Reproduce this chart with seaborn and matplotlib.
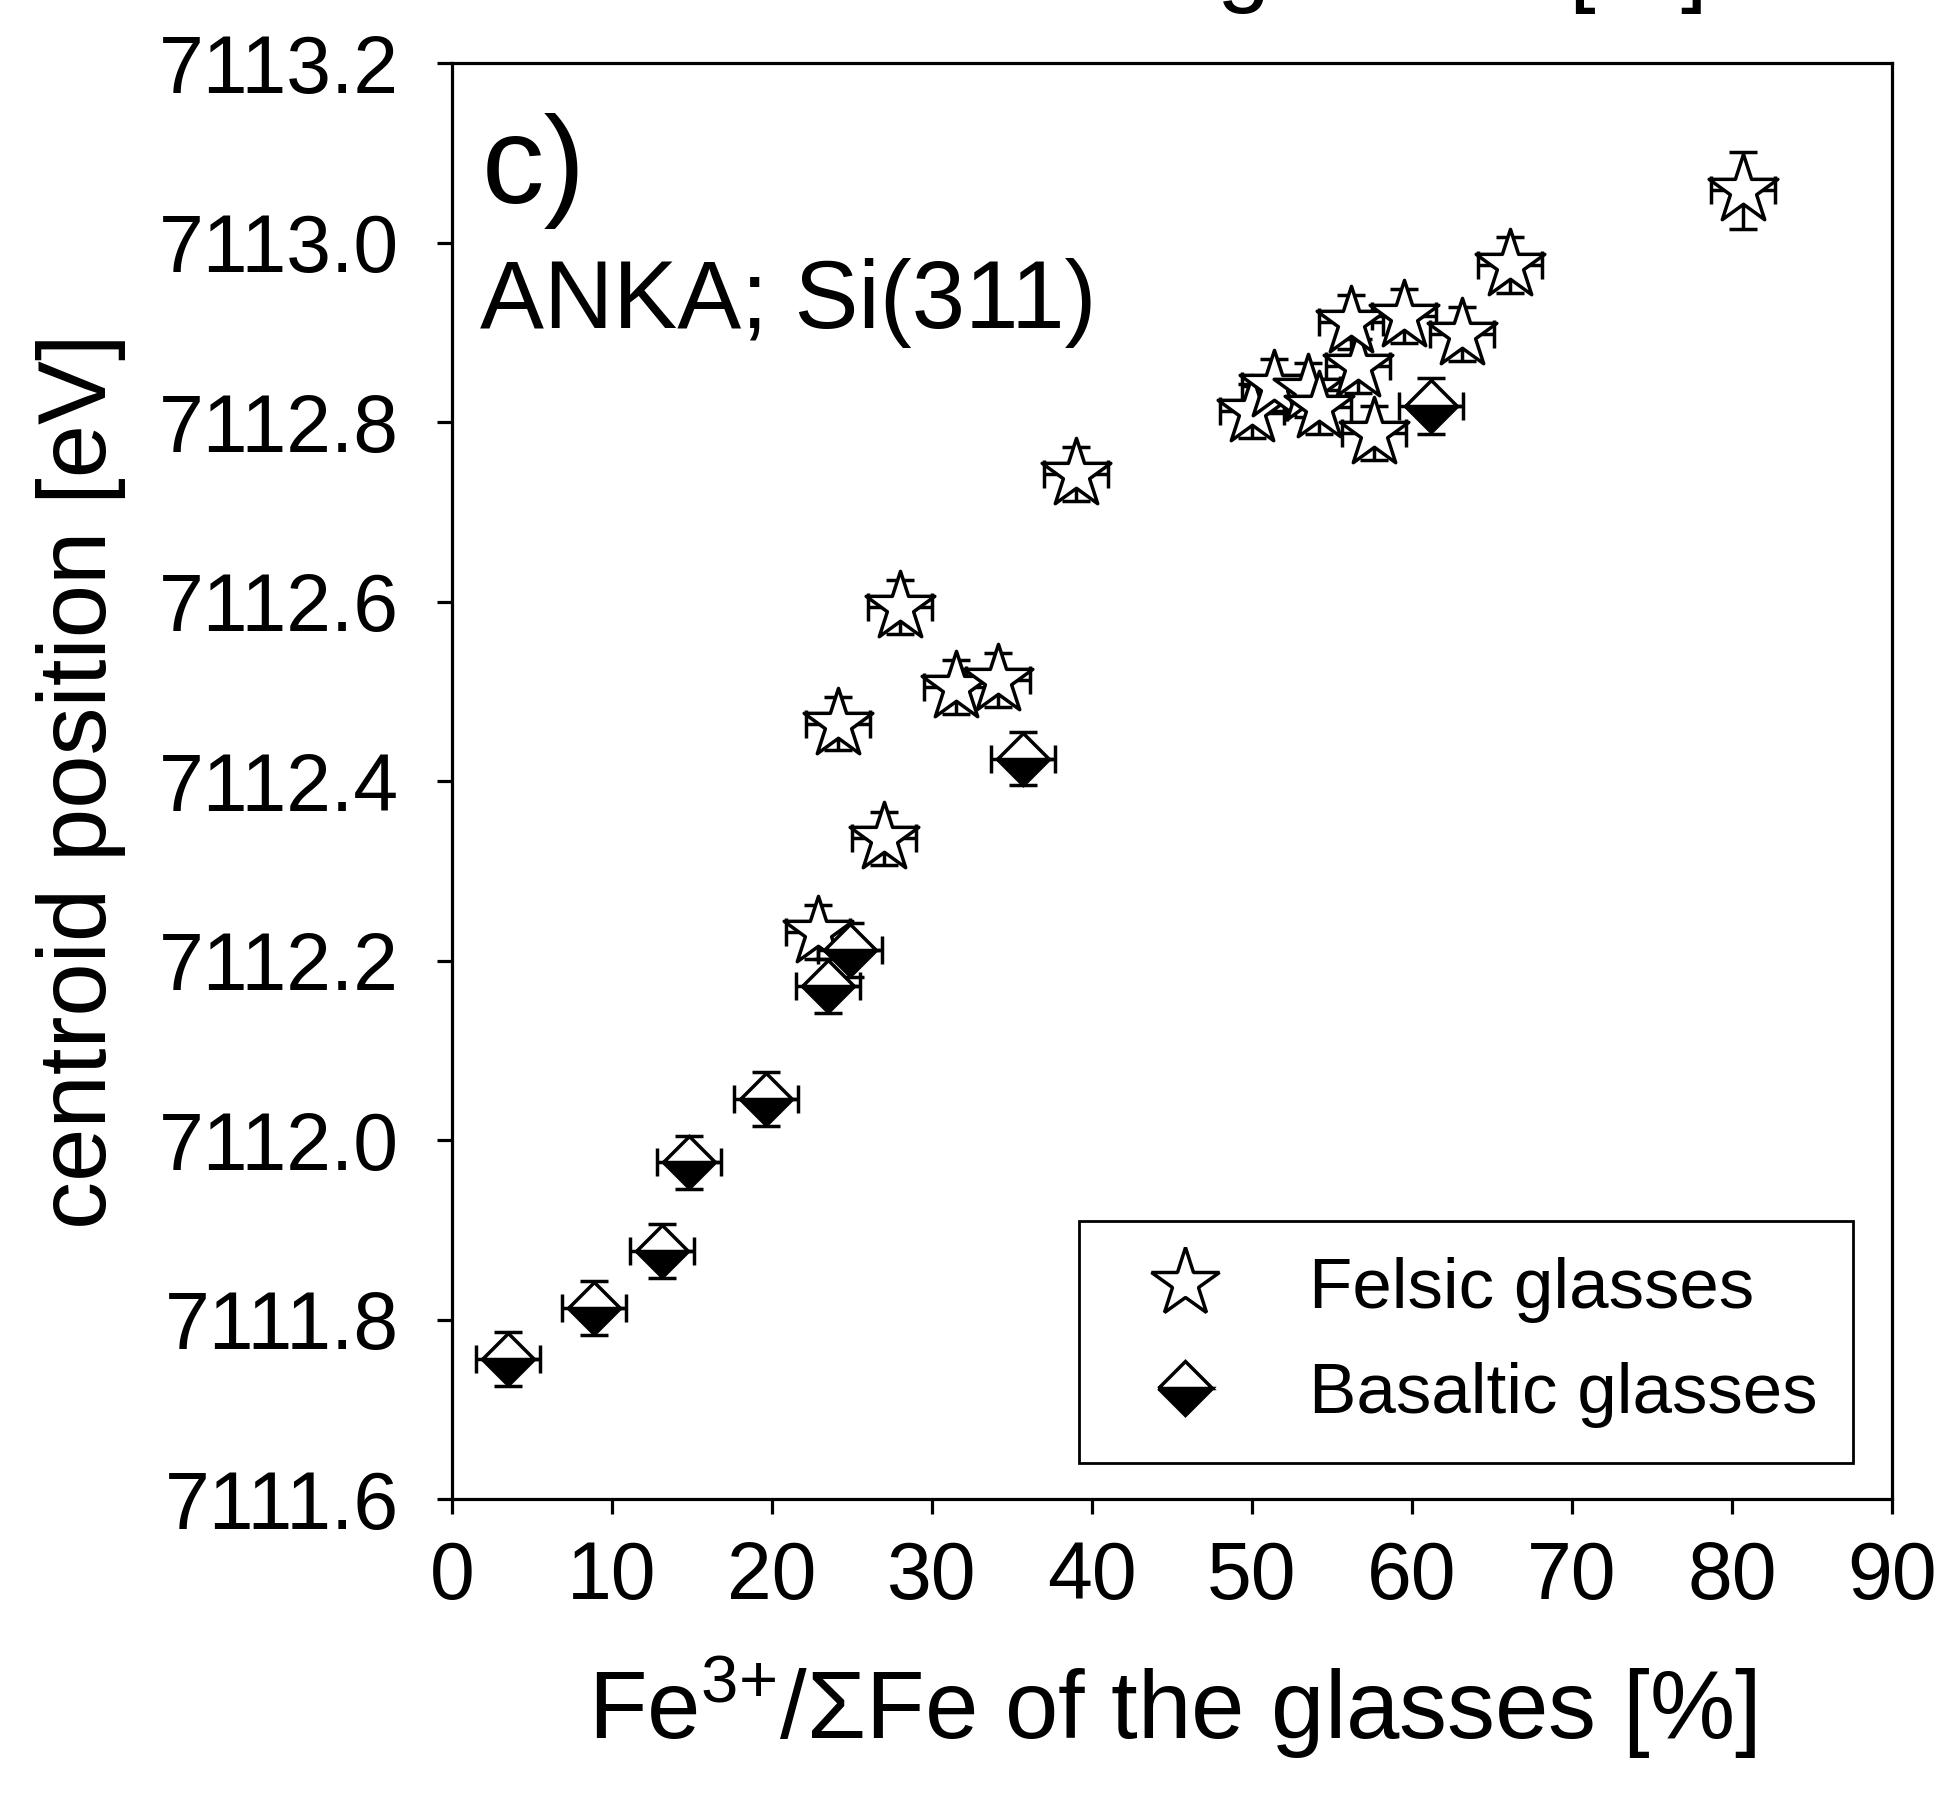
import numpy as np
import pandas as pd
import matplotlib
matplotlib.use("Agg")
import matplotlib.pyplot as plt
from matplotlib.lines import Line2D
import seaborn as sns

# ---------------- data ----------------
felsic_x = [22.9, 24.1, 27.0, 28.0, 31.5, 34.1, 39.0, 50.0, 51.4, 53.5,
            54.2, 56.6, 56.2, 57.6, 59.5, 63.1, 66.1, 80.7]
felsic_y = [7112.232, 7112.464, 7112.336, 7112.594, 7112.505, 7112.513,
            7112.742, 7112.812, 7112.840, 7112.836, 7112.817, 7112.862,
            7112.911, 7112.788, 7112.918, 7112.898, 7112.975, 7113.058]
felsic_xerr = [2.0, 2.0, 2.0, 2.0, 2.0, 2.0, 2.0, 2.0, 2.0, 2.0,
               2.0, 2.0, 2.0, 2.0, 2.0, 2.0, 2.0, 2.0]
felsic_yerr = [0.03, 0.03, 0.03, 0.03, 0.03, 0.03, 0.03, 0.03, 0.03, 0.03,
               0.03, 0.03, 0.03, 0.03, 0.03, 0.03, 0.031, 0.043]

basalt_x = [3.5, 8.9, 13.1, 14.8, 19.6, 23.5, 24.9, 35.7, 61.2]
basalt_y = [7111.756, 7111.813, 7111.876, 7111.975, 7112.046, 7112.172,
            7112.212, 7112.425, 7112.818]
basalt_xerr = [2.0, 2.0, 2.0, 2.0, 2.0, 2.0, 2.0, 2.0, 2.0]
basalt_yerr = [0.03, 0.03, 0.03, 0.03, 0.03, 0.03, 0.03, 0.03, 0.031]

x_ticks = [0, 10, 20, 30, 40, 50, 60, 70, 80, 90]
y_ticks = [7111.6, 7111.8, 7112.0, 7112.2, 7112.4, 7112.6, 7112.8, 7113.0, 7113.2]

series_labels = ["Felsic glasses", "Basaltic glasses"]
x_label = "Fe$^{3{+}}$/\u03a3Fe of the glasses [%]"
y_label = "centroid position [eV]"
panel_label = "c)"
panel_note = "ANKA; Si(311)"

felsic = pd.DataFrame({"x": felsic_x, "y": felsic_y})
basalt = pd.DataFrame({"x": basalt_x, "y": basalt_y})

# ---------------- style ----------------
sns.set_style("ticks")
plt.rcParams["font.family"] = ["Liberation Sans", "DejaVu Sans"]
plt.rcParams["text.color"] = "black"
plt.rcParams["mathtext.default"] = "regular"
plt.rcParams["mathtext.fontset"] = "custom"
plt.rcParams["mathtext.rm"] = "Liberation Sans"

fig = plt.figure(figsize=(19.44, 17.94), dpi=100)
ax = fig.add_axes([452 / 1944, 1 - 1499 / 1794, 1440 / 1944, 1436 / 1794])

lw = 2.5
# error bars
ax.errorbar(felsic_x, felsic_y, xerr=felsic_xerr, yerr=felsic_yerr, fmt="none",
            ecolor="black", elinewidth=lw, capsize=10, capthick=lw, zorder=2)
ax.errorbar(basalt_x, basalt_y, xerr=basalt_xerr, yerr=basalt_yerr, fmt="none",
            ecolor="black", elinewidth=lw, capsize=10, capthick=lw, zorder=2)

# markers
sns.scatterplot(data=felsic, x="x", y="y", marker="*", s=52 ** 2,
                color="white", edgecolor="black", linewidth=lw,
                zorder=3, legend=False, ax=ax)
sns.lineplot(data=basalt, x="x", y="y", estimator=None, sort=False,
             linestyle="", marker="D", markersize=26.5, fillstyle="bottom",
             markerfacecolor="black", markerfacecoloralt="white",
             markeredgecolor="black", markeredgewidth=lw, zorder=4,
             legend=False, ax=ax)

# axes
ax.set_xlim(0, 90)
ax.set_ylim(7111.6, 7113.2)
ax.set_xticks(x_ticks)
ax.set_xticklabels([str(t) for t in x_ticks])
ax.set_yticks(y_ticks)
ax.set_yticklabels([f"{t:.1f}" for t in y_ticks])
for s in ax.spines.values():
    s.set_linewidth(2.3)
    s.set_color("black")
ax.tick_params(axis="both", which="major", direction="out", length=10.5,
               width=2.3, color="black", labelsize=58, labelcolor="black",
               top=False, right=False)
ax.tick_params(axis="y", pad=28)
ax.tick_params(axis="x", pad=19)
ax.set_xlabel(x_label, fontsize=69, labelpad=28, color="black")
ax.set_ylabel(y_label, fontsize=69, labelpad=23, color="black")

# annotations
ax.text(0.021, 0.9025, panel_label, transform=ax.transAxes, fontsize=90,
        ha="left", va="baseline", color="black")
ax.text(0.0194, 0.8155, panel_note, transform=ax.transAxes, fontsize=69,
        ha="left", va="baseline", color="black")

# clipped label of the panel above
fig.text(0.575, 1.0028, x_label, fontsize=69, ha="center", va="baseline",
         color="black")

# legend
handles = [
    Line2D([], [], linestyle="", marker="*", markersize=52,
           markerfacecolor="white", markeredgecolor="black",
           markeredgewidth=lw),
    Line2D([], [], linestyle="", marker="D", markersize=27, fillstyle="bottom",
           markerfacecolor="black", markerfacecoloralt="white",
           markeredgecolor="black", markeredgewidth=lw),
]
leg = ax.legend(handles, series_labels, loc="lower right",
                bbox_to_anchor=(0.973, 0.025), borderaxespad=0,
                fontsize=51, frameon=True, fancybox=False, framealpha=1,
                edgecolor="black", borderpad=0.5, labelspacing=0.55,
                handlelength=2.0, handletextpad=0.75)
leg.get_frame().set_linewidth(2.0)
for t in leg.get_texts():
    t.set_color("black")

fig.savefig("out.png", dpi=100, facecolor="white")
